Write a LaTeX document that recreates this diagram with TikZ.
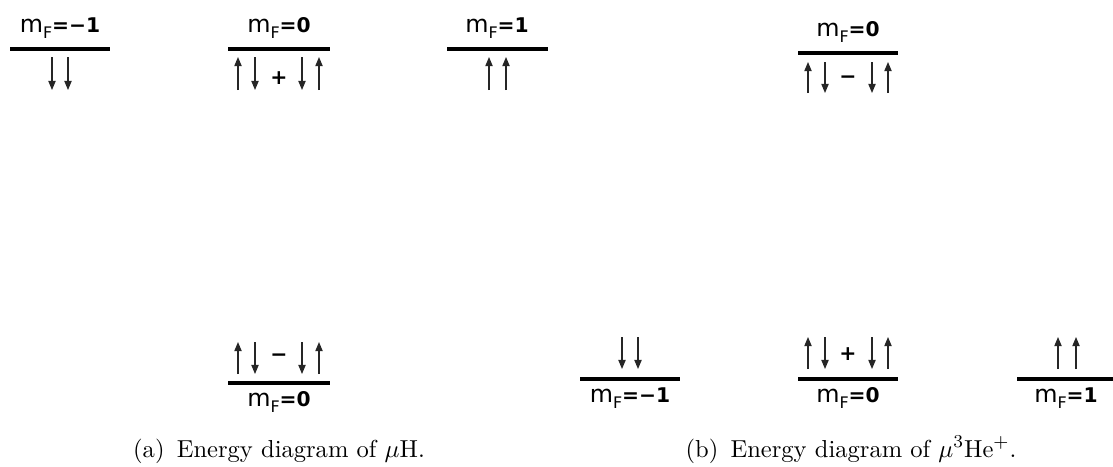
\documentclass[tikz,border=0pt]{standalone}
\usepackage{fontspec}
\newfontfamily\labfont{DejaVu Sans}
\usetikzlibrary{arrows.meta}
\newcommand\mFlab[1]{m\raisebox{-2.9pt}{\fontsize{7}{7}\selectfont F}{\bfseries\fontsize{8.9}{10}\selectfont #1}}
\tikzset{
  lvl/.style={line width=1.45pt},
  spin/.style={line width=0.5pt, black!85, -{Triangle[length=4pt,width=3.2pt]}},
  lab/.style={font=\labfont\fontsize{10.5}{12}\selectfont, inner sep=0pt, anchor=base},
  sgn/.style={font=\labfont\bfseries\fontsize{9}{10}\selectfont, inner sep=0pt},
  capt/.style={font=\fontsize{10.8}{12}\selectfont, inner sep=0pt, anchor=base},
}
\begin{document}
\begin{tikzpicture}[x=0.44pt, y=-0.44pt]
\useasboundingbox (0,0) rectangle (1113,466);
% ---------- (a) top ----------
\draw[lvl] (10,49) -- (110,49);
\node[lab] (a1) at (60,32) {\mFlab{=−1}};
\draw[spin] (52,57) -- (52,90);
\draw[spin] (68,57) -- (68,90);

\draw[lvl] (228,49) -- (330,49);
\node[lab] (a2) at (279,32) {\mFlab{=0}};
\draw[spin] (238,90) -- (238,57);
\draw[spin] (255,57) -- (255,90);
\node[sgn] (a2s) at (279,78) {+};
\draw[spin] (302,57) -- (302,90);
\draw[spin] (319,90) -- (319,57);

\draw[lvl] (447,49) -- (548,49);
\node[lab] (a3) at (497,32) {\mFlab{=1}};
\draw[spin] (489,90) -- (489,57);
\draw[spin] (506,90) -- (506,57);

% ---------- (a) bottom ----------
\draw[lvl] (228,383) -- (330,383);
\node[lab] (a4) at (279,406) {\mFlab{=0}};
\draw[spin] (238,374) -- (238,342);
\draw[spin] (255,342) -- (255,374);
\node[sgn] (a4s) at (279,358) {−};
\draw[spin] (302,342) -- (302,374);
\draw[spin] (319,374) -- (319,342);

% ---------- (b) top ----------
\draw[lvl] (798,53) -- (898,53);
\node[lab] (b1) at (848,36) {\mFlab{=0}};
\draw[spin] (808,93) -- (808,62);
\draw[spin] (825,62) -- (825,93);
\node[sgn] (b1s) at (848,80) {−};
\draw[spin] (872,62) -- (872,93);
\draw[spin] (888,93) -- (888,62);

% ---------- (b) bottom ----------
\draw[lvl] (580,379) -- (680,379);
\node[lab] (b2) at (630,402) {\mFlab{=−1}};
\draw[spin] (622,337) -- (622,369);
\draw[spin] (638,337) -- (638,369);

\draw[lvl] (798,379) -- (898,379);
\node[lab] (b3) at (848,402) {\mFlab{=0}};
\draw[spin] (808,369) -- (808,337);
\draw[spin] (825,337) -- (825,369);
\node[sgn] (b3s) at (848,354) {+};
\draw[spin] (872,337) -- (872,369);
\draw[spin] (888,369) -- (888,337);

\draw[lvl] (1017,379) -- (1113,379);
\node[lab] (b4) at (1066,402) {\mFlab{=1}};
\draw[spin] (1058,369) -- (1058,337);
\draw[spin] (1076,369) -- (1076,337);

% ---------- captions ----------
\node[capt] (capa) at (279,457) {(a)\enspace Energy diagram of $\mu$H.};
\node[capt] (capb) at (851,457) {(b)\enspace Energy diagram of $\mu^{3}$He$^{+}$.};
\end{tikzpicture}
\end{document}
